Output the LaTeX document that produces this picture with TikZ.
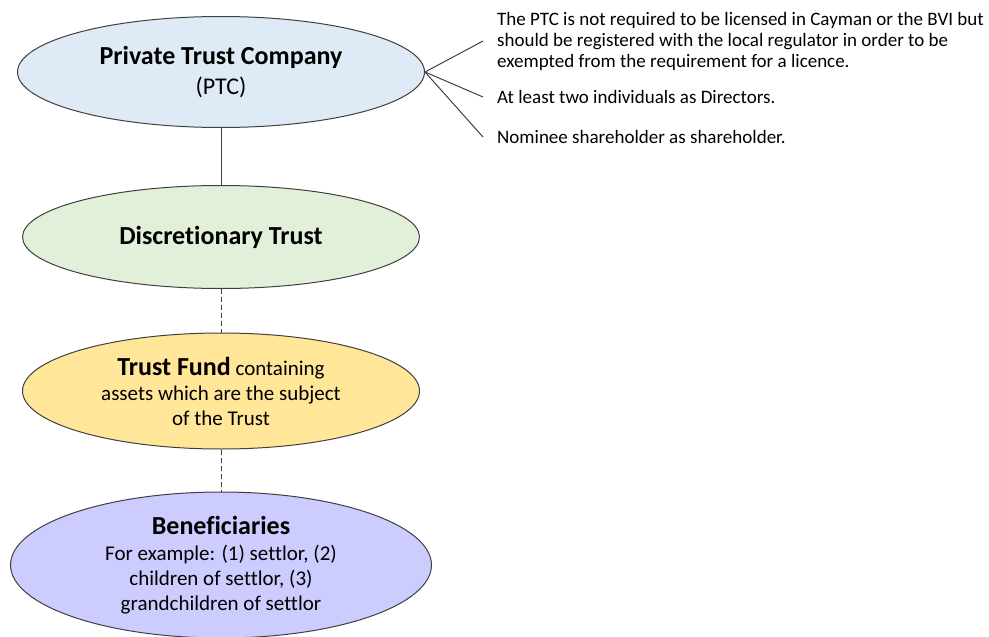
\documentclass[tikz,border=0pt]{standalone}
\usepackage{fontspec}
\setmainfont{Carlito}[Ligatures=NoCommon]
\usetikzlibrary{shapes.geometric}
\definecolor{ptcblue}{HTML}{DEEBF7}
\definecolor{trustgreen}{HTML}{E2F0D9}
\definecolor{fundgold}{HTML}{FFE699}
\definecolor{benlilac}{HTML}{CCCCFF}
\definecolor{edgegrey}{HTML}{404040}
\begin{document}
\begin{tikzpicture}
\tikzset{x=1pt, y=-1pt,
  bulle/.style={draw=edgegrey, line width=1pt, ellipse, inner sep=0pt, align=center,
    font=\fontsize{21}{25}\selectfont},
  remarque/.style={anchor=west, align=left, inner xsep=14pt, inner ysep=0pt,
    font=\fontsize{19}{21}\selectfont},
  lien/.style={draw=edgegrey, line width=1pt}}
\useasboundingbox (0,0) rectangle (989,637);
\node[bulle, fill=ptcblue, minimum width=407pt, minimum height=111pt] (PTC) at (221,72)
  {{\bfseries\fontsize{26}{30}\selectfont Private Trust Company}\\[5pt]{\fontsize{24}{28}\selectfont (PTC)}};
\node[bulle, fill=trustgreen, minimum width=397pt, minimum height=103pt] (DT) at (221,237)
  {\textbf{\fontsize{26}{30}\selectfont Discretionary Trust}};
\node[bulle, fill=fundgold, minimum width=397pt, minimum height=116pt] (TF) at (221,391)
  {{\bfseries\fontsize{26}{25}\selectfont Trust Fund} containing\\assets which are the subject\\of the Trust};
\node[bulle, fill=benlilac, minimum width=421pt, minimum height=146pt] (BEN) at (221,565)
  {{\bfseries\fontsize{26}{30}\selectfont Beneficiaries}\\[1pt]For example: (1) settlor, (2)\\children of settlor, (3)\\grandchildren of settlor};
\node[remarque] (N1) at (483,41) {The PTC is not required to be licensed in Cayman or the BVI but\\should be registered with the local regulator in order to be\\exempted from the requirement for a licence.};
\node[remarque] (N2) at (483,97) {At least two individuals as Directors.};
\node[remarque] (N3) at (483,137) {Nominee shareholder as shareholder.};
\draw[lien] (PTC) -- (DT);
\draw[lien, dash pattern=on 5pt off 3pt] (DT) -- (TF);
\draw[lien, dash pattern=on 5pt off 3pt] (TF) -- (BEN);
\draw[lien] (PTC.east) -- (N1.west);
\draw[lien] (PTC.east) -- (N2.west);
\draw[lien] (PTC.east) -- (N3.west);
\end{tikzpicture}
\end{document}
